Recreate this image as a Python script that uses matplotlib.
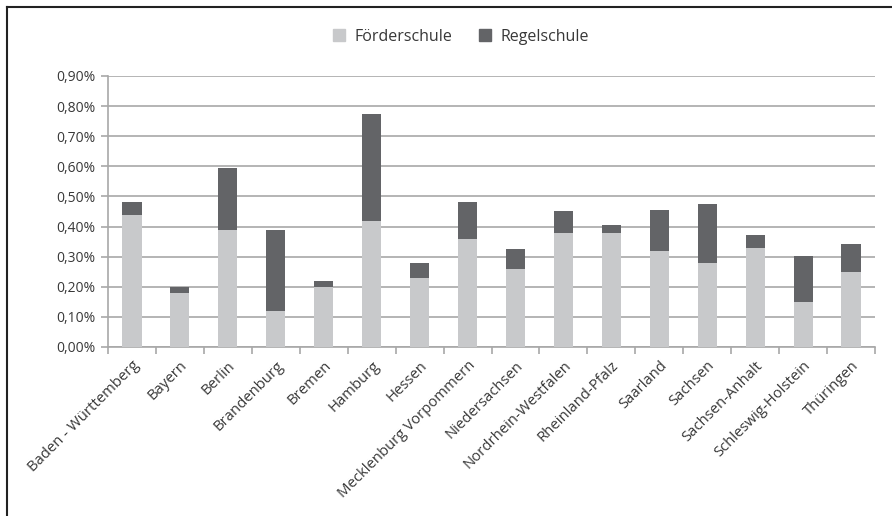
import matplotlib
matplotlib.use("Agg")
import matplotlib.pyplot as plt
from matplotlib.ticker import FuncFormatter, MultipleLocator
from matplotlib.lines import Line2D
import numpy as np

plt.rcParams['font.family'] = ['Open Sans', 'DejaVu Sans']

categories = ["Baden - Württemberg", "Bayern", "Berlin", "Brandenburg", "Bremen",
              "Hamburg", "Hessen", "Mecklenburg Vorpommern", "Niedersachsen",
              "Nordrhein-Westfalen", "Rheinland-Pfalz", "Saarland", "Sachsen",
              "Sachsen-Anhalt", "Schleswig-Holstein", "Thüringen"]
foerderschule = [0.44, 0.18, 0.39, 0.12, 0.20, 0.42, 0.23, 0.36, 0.26, 0.38, 0.38,
                 0.32, 0.28, 0.33, 0.15, 0.25]
regelschule = [0.043, 0.02, 0.205, 0.27, 0.019, 0.354, 0.048, 0.12, 0.067, 0.07,
               0.025, 0.135, 0.195, 0.043, 0.151, 0.092]
series_names = ["Förderschule", "Regelschule"]

c_light = "#C8C9CB"
c_dark = "#636467"
txt = "#383838"
grid_c = "#A8A8A8"

W, H = 892, 516
fig = plt.figure(figsize=(W / 100, H / 100), dpi=100)
ax = fig.add_axes([108 / W, 1 - 347 / H, (875 - 108) / W, (347 - 76) / H])

x = np.arange(len(categories))
ax.bar(x, foerderschule, width=0.4, color=c_light, zorder=3)
ax.bar(x, regelschule, width=0.4, bottom=foerderschule, color=c_dark, zorder=3)

ax.set_xlim(-0.5, len(categories) - 0.5)
ax.set_ylim(0, 0.9)
ax.yaxis.set_major_locator(MultipleLocator(0.1))
ax.yaxis.set_major_formatter(FuncFormatter(lambda v, p: f"{v:.2f}%".replace(".", ",")))
ax.grid(axis="y", color=grid_c, linewidth=1.2, zorder=0)

for s in ["top", "right"]:
    ax.spines[s].set_visible(False)
for s in ["left", "bottom"]:
    ax.spines[s].set_color(grid_c)
    ax.spines[s].set_linewidth(1.2)

ax.tick_params(axis="y", colors=grid_c, labelcolor=txt, labelsize=10, length=5, width=1.2, pad=4)
ax.set_xticks(np.arange(-0.5, len(categories), 1.0), minor=False)
ax.set_xticklabels([])
ax.tick_params(axis="x", which="major", colors=grid_c, length=5, width=1.2)
ax.set_xticks(x, minor=True)
ax.set_xticklabels(categories, minor=True, rotation=45, ha="right",
                   rotation_mode="anchor", fontsize=10.7, color=txt)
ax.tick_params(axis="x", which="minor", length=0, pad=8)

handles = [Line2D([], [], marker="s", linestyle="none", markersize=8,
                  markerfacecolor=c, markeredgecolor=c) for c in (c_light, c_dark)]
fig.legend(handles, series_names, loc="center", bbox_to_anchor=(456 / W, 1 - 37 / H),
           ncol=2, frameon=False, fontsize=11.5, handletextpad=0.0, columnspacing=1.0,
           labelcolor=txt)

# outer chart frame (cropped at right/bottom)
fig.add_artist(Line2D([7 / W, 7 / W], [0, 1 - 7 / H], transform=fig.transFigure,
                      color="#222222", linewidth=1.5))
fig.add_artist(Line2D([7 / W, 1], [1 - 7 / H, 1 - 7 / H], transform=fig.transFigure,
                      color="#222222", linewidth=1.5))

fig.savefig("out.png", dpi=100)
